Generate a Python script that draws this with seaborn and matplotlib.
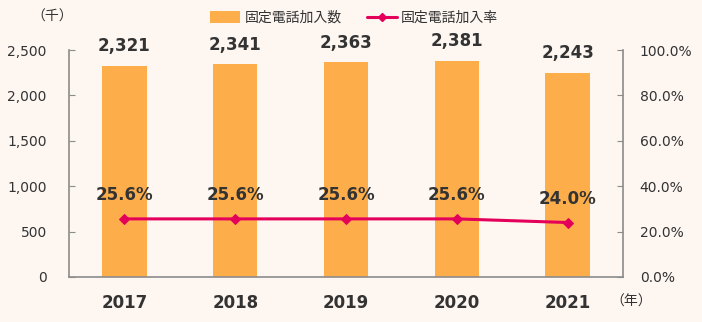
import matplotlib
matplotlib.use("Agg")
import matplotlib.pyplot as plt
import seaborn as sns
import pandas as pd
import numpy as np
from matplotlib.patches import Patch
from matplotlib.lines import Line2D
from matplotlib.ticker import FuncFormatter, FixedLocator

years = ["2017", "2018", "2019", "2020", "2021"]
subscribers = [2321, 2341, 2363, 2381, 2243]
rate = [25.6, 25.6, 25.6, 25.6, 24.0]
bar_label = "固定電話加入数"
line_label = "固定電話加入率"

sns.set_style("white")
plt.rcParams['font.family'] = ['DejaVu Sans', 'Noto Sans CJK JP']

bg = "#FDF6F1"
bar_color = "#FDAE4B"
line_color = "#E4005A"
txt = "#333333"
spine_c = "#8C8C8C"

fig = plt.figure(figsize=(7.02, 3.22), dpi=100, facecolor=bg)
ax = fig.add_axes([69/702, 1-277/322, (623-69)/702, (277-50)/322])
ax.set_facecolor(bg)

df = pd.DataFrame({"year": years, "subs": subscribers, "rate": rate})
sns.barplot(data=df, x="year", y="subs", color=bar_color, width=0.4, ax=ax,
            saturation=1, edgecolor="none")
ax.set_xlim(-0.5, 4.5)
ax.set_ylim(0, 2500)
ax.set_yticks([0, 500, 1000, 1500, 2000, 2500])
ax.yaxis.set_major_formatter(FuncFormatter(lambda v, p: f"{int(v):,}"))
ax.set_xlabel("")
ax.set_ylabel("")
ax.tick_params(axis="y", direction="in", length=4, color=spine_c, labelsize=10,
               labelcolor=txt, pad=16)
ax.tick_params(axis="x", which="major", length=0, labelsize=12, labelcolor=txt, pad=12)
for lab in ax.get_xticklabels():
    lab.set_fontweight("bold")
ax.xaxis.set_minor_locator(FixedLocator(np.arange(-0.5, 5, 1)))
ax.tick_params(axis="x", which="minor", direction="out", length=5, color=spine_c)
ax.spines["top"].set_visible(False)
ax.spines["right"].set_visible(False)
for s in ["left", "bottom"]:
    ax.spines[s].set_color(spine_c)
    ax.spines[s].set_linewidth(1.2)

for i, v in enumerate(subscribers):
    ax.text(i, v + 120, f"{v:,}", ha="center", va="bottom", fontsize=12,
            fontweight="bold", color=txt)

ax2 = ax.twinx()
sns.lineplot(x=np.arange(len(years)), y=rate, ax=ax2, color=line_color, lw=2.2,
             marker="D", markersize=5.5, markeredgecolor=line_color)
ax2.set_ylim(0, 100)
ax2.set_yticks([0, 20, 40, 60, 80, 100])
ax2.yaxis.set_major_formatter(FuncFormatter(lambda v, p: f"{v:.1f}%"))
ax2.tick_params(axis="y", direction="in", length=4, color=spine_c, labelsize=10,
                labelcolor=txt, pad=12)
ax2.spines["top"].set_visible(False)
ax2.spines["left"].set_visible(False)
ax2.spines["bottom"].set_visible(False)
ax2.spines["right"].set_color(spine_c)
ax2.spines["right"].set_linewidth(1.2)
ax2.set_xlim(-0.5, 4.5)
for i, v in enumerate(rate):
    ax2.text(i, v + 6.5, f"{v:.1f}%", ha="center", va="bottom", fontsize=12,
             fontweight="bold", color=txt)

handles = [Patch(facecolor=bar_color, edgecolor="none", label=bar_label),
           Line2D([0], [0], color=line_color, lw=2.2, marker="D", markersize=4,
                  label=line_label)]
fig.legend(handles=handles, loc="center", bbox_to_anchor=(354/702, 1-18/322), ncol=2,
           frameon=False, handlelength=2.2, handleheight=0.9,
           columnspacing=1.8, handletextpad=0.3,
           prop={"family": ["Noto Sans CJK JP"], "size": 10})
for t in fig.legends[0].get_texts():
    t.set_color(txt)

fig.text(52/702, 1-17/322, "（千）", ha="center", va="center", fontsize=10,
         color=txt, family=["Noto Sans CJK JP"])
fig.text(631/702, 1-302/322, "（年）", ha="center", va="center", fontsize=10,
         color=txt, family=["Noto Sans CJK JP"])

fig.savefig("out.png", dpi=100, facecolor=bg)
